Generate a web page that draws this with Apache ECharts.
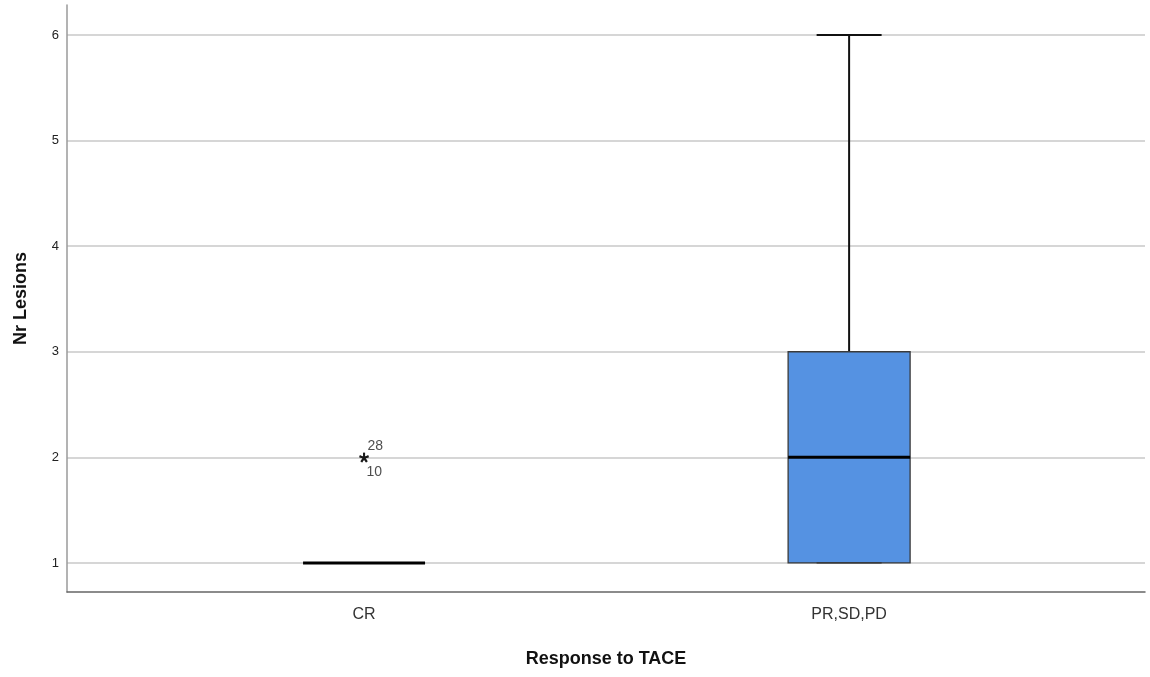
<!DOCTYPE html>
<html>
<head>
<meta charset="utf-8">
<script src="https://cdn.jsdelivr.net/npm/echarts@6/dist/echarts.min.js"></script>
<style>
  html, body { margin: 0; padding: 0; background: #fff; }
  #chart { width: 1150px; height: 677px; }
</style>
</head>
<body>
<div id="chart"></div>
<script>
// Response groups along the x axis
const categories = ['CR', 'PR,SD,PD'];
// Box statistics per group: [min, Q1, median, Q3, max]
const boxStats = [
  [1, 1, 1, 1, 1],
  [1, 1, 2, 3, 6]
];
// Extreme cases: group index, value, case number
const extremeGroup = [0, 0];
const extremeValue = [2, 2];
const extremeCase = ['28', '10'];
// Y tick values
const yTicks = [1, 2, 3, 4, 5, 6];

const FONT = '"Liberation Sans", Arial, sans-serif';

const boxData = boxStats.map((s, i) => [i + 1].concat(s));
const extremeData = extremeGroup.map((g, i) => ({
  value: [g + 1, extremeValue[i]],
  label: {
    formatter: extremeCase[i],
    position: i === 0 ? [9, -6] : [8, 20]
  }
}));

const BOX_W = 0.2515;   // box width in x-axis units
const CAP_W = 0.134;    // whisker cap width in x-axis units

function renderBox(params, api) {
  const x = api.value(0);
  const vMin = api.value(1), q1 = api.value(2), med = api.value(3), q3 = api.value(4), vMax = api.value(5);
  const pL = api.coord([x - BOX_W / 2, q3]);
  const pR = api.coord([x + BOX_W / 2, q1]);
  const cL = api.coord([x - CAP_W / 2, vMax]);
  const cR = api.coord([x + CAP_W / 2, vMax]);
  const mL = api.coord([x - BOX_W / 2, med]);
  const mR = api.coord([x + BOX_W / 2, med]);
  const pMax = api.coord([x, vMax]);
  const pQ3 = api.coord([x, q3]);
  const pMin = api.coord([x, vMin]);
  const pQ1 = api.coord([x, q1]);
  const minL = api.coord([x - CAP_W / 2, vMin]);
  const minR = api.coord([x + CAP_W / 2, vMin]);
  const children = [];
  const whisk = { stroke: '#111', lineWidth: 2 };
  if (vMax > q3) {
    children.push({ type: 'line', shape: { x1: pMax[0], y1: pMax[1], x2: pQ3[0], y2: pQ3[1] }, style: whisk });
    children.push({ type: 'line', shape: { x1: cL[0], y1: cL[1], x2: cR[0], y2: cR[1] }, style: whisk });
  }
  if (q3 > q1) {
    children.push({
      type: 'rect',
      shape: { x: pL[0], y: pL[1], width: pR[0] - pL[0], height: pR[1] - pL[1] },
      style: { fill: '#5592E2', stroke: '#3a3a3a', lineWidth: 1.3 }
    });
  }
  if (vMin < q1) {
    children.push({ type: 'line', shape: { x1: pMin[0], y1: pMin[1], x2: pQ1[0], y2: pQ1[1] }, style: whisk });
  }
  if (q3 > q1) {
    children.push({ type: 'line', shape: { x1: minL[0], y1: minL[1], x2: minR[0], y2: minR[1] }, style: { stroke: '#333', lineWidth: 1.3 } });
  }
  children.push({
    type: 'line',
    shape: { x1: mL[0], y1: mL[1], x2: mR[0], y2: mR[1] },
    style: { stroke: '#000', lineWidth: 3 }
  });
  return { type: 'group', children: children };
}

const chart = echarts.init(document.getElementById('chart'), null, { renderer: 'canvas' });
chart.setOption({
  backgroundColor: '#fff',
  animation: false,
  grid: { left: 67, right: 5, top: 5, bottom: 85, containLabel: false },
  xAxis: {
    type: 'value',
    min: 0.3876,
    max: 2.61,
    name: 'Response to TACE',
    nameLocation: 'middle',
    nameGap: 58,
    nameTextStyle: { fontFamily: FONT, fontSize: 18, fontWeight: 'bold', color: '#111', verticalAlign: 'top' },
    axisLine: { show: true, lineStyle: { color: '#666', width: 1.5 } },
    axisTick: { show: false },
    splitLine: { show: false },
    axisLabel: {
      customValues: [1, 2],
      formatter: v => categories[Math.round(v) - 1] || '',
      fontFamily: FONT,
      fontSize: 16,
      color: '#333',
      margin: 15
    }
  },
  yAxis: {
    type: 'value',
    min: 0.725,
    max: 6.284,
    name: 'Nr Lesions',
    nameLocation: 'middle',
    nameGap: 37,
    nameRotate: 90,
    nameTextStyle: { fontFamily: FONT, fontSize: 18, fontWeight: 'bold', color: '#111' },
    axisLine: { show: true, lineStyle: { color: '#9a9a9a', width: 1.5 } },
    axisTick: { show: false, customValues: yTicks },
    splitLine: { show: true, showMinLine: true, showMaxLine: true, lineStyle: { color: '#c8c8c8', width: 1.5 } },
    axisLabel: {
      customValues: yTicks,
      fontFamily: FONT,
      fontSize: 13,
      color: '#222',
      margin: 8
    }
  },
  series: [
    {
      type: 'custom',
      renderItem: renderBox,
      data: boxData,
      encode: { x: 0, y: [1, 2, 3, 4, 5] },
      z: 3
    },
    {
      type: 'scatter',
      data: extremeData,
      symbol: 'path://M0,-5L0,0M0,0L4.76,-1.55M0,0L2.94,4.05M0,0L-2.94,4.05M0,0L-4.76,-1.55',
      symbolSize: 9,
      itemStyle: { color: 'transparent', borderColor: '#111', borderWidth: 2 },
      label: {
        show: true,
        fontFamily: FONT,
        fontSize: 14,
        color: '#222',
        align: 'left',
        verticalAlign: 'middle'
      },
      z: 4
    }
  ]
});
</script>
</body>
</html>
